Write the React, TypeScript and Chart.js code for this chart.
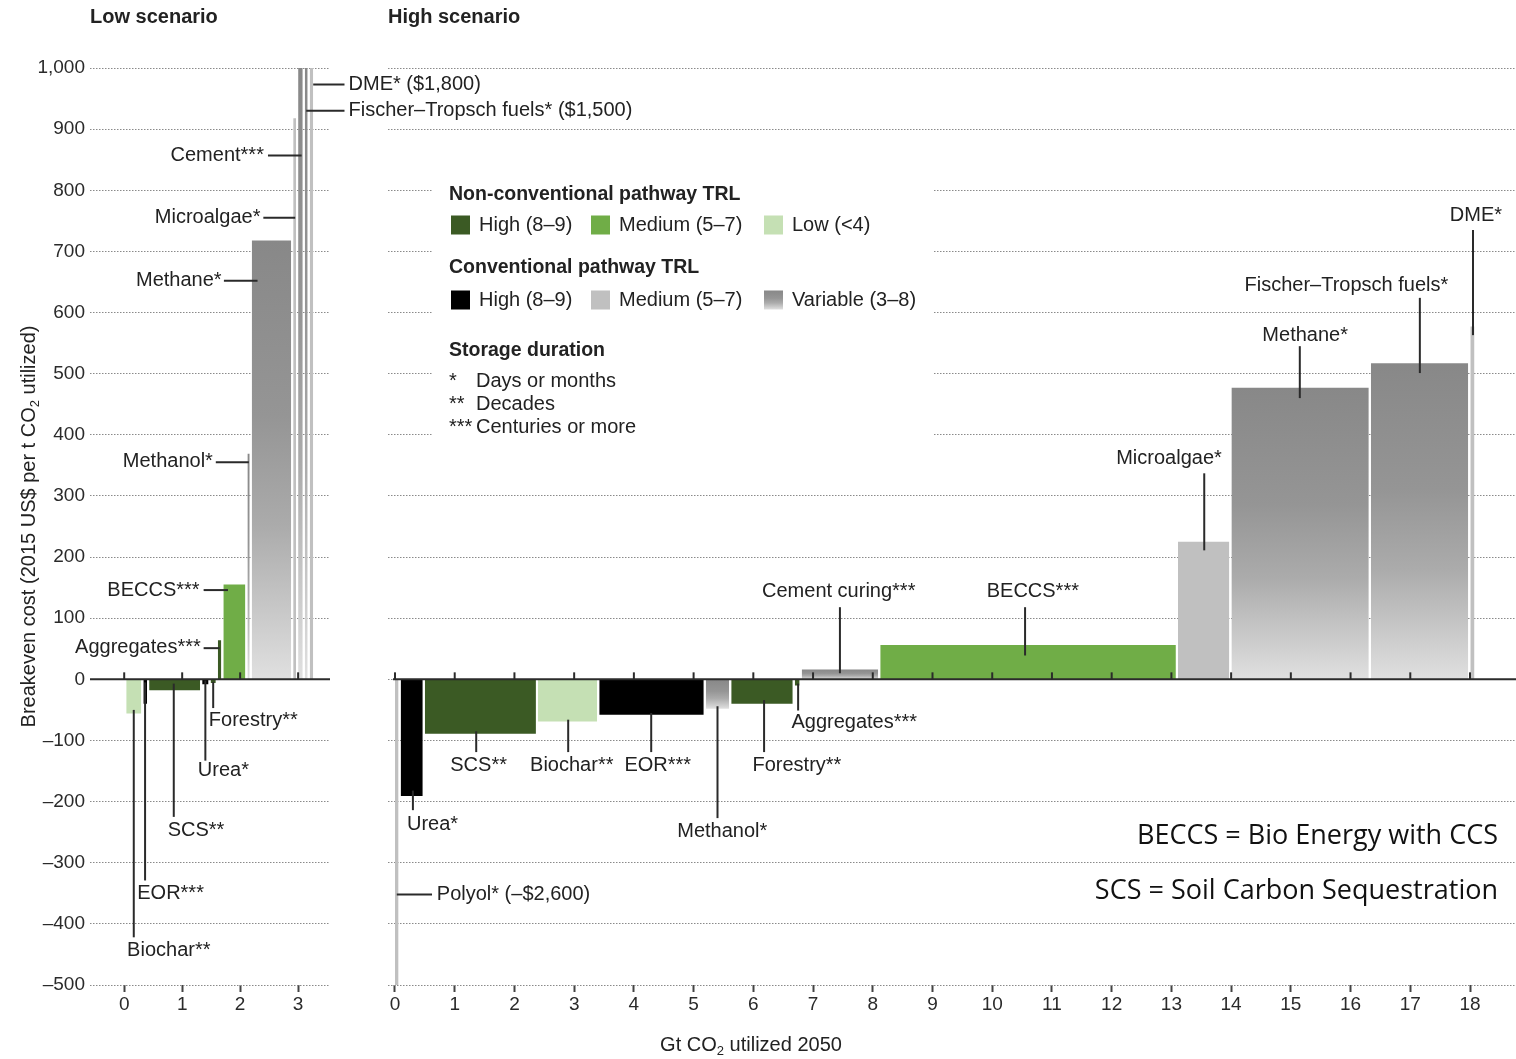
import React, { useEffect, useRef } from "react";
import { Chart, registerables } from "chart.js";

Chart.register(...registerables);

const FONT = '"Liberation Sans", Arial, Helvetica, sans-serif';
const NOTE_FONT = '"Open Sans", "Noto Sans", sans-serif';
const TEXT = "#222222";

// ---------- shared y axis ----------
const yTickValues = [-500, -400, -300, -200, -100, 0, 100, 200, 300, 400, 500, 600, 700, 800, 900, 1000];
const yTickLabels = ["–500", "–400", "–300", "–200", "–100", "0", "100", "200", "300", "400", "500", "600", "700", "800", "900", "1,000"];

// ---------- Low scenario ----------
const lowXTicks = [0, 1, 2, 3];
const lowPathways = ["Biochar", "EOR", "SCS", "Urea", "Forestry", "Aggregates", "BECCS", "Methanol", "Methane", "Microalgae", "Cement", "Fischer–Tropsch fuels", "DME"];
const lowUtilization = [0.26, 0.065, 0.88, 0.11, 0.09, 0.06, 0.38, 0.04, 0.68, 0.05, 0.08, 0.05, 0.06];
const lowCost = [-56, -40, -18, -8, -6, 64, 155, 369, 718, 918, 1000, 1500, 1800];
const lowTrl = ["ncLow", "cHigh", "ncHigh", "cHigh", "ncHigh", "ncHigh", "ncMed", "cVar", "cVar", "cMed", "cVar", "cVar", "cMed"];

// ---------- High scenario ----------
const highXTicks = [0, 1, 2, 3, 4, 5, 6, 7, 8, 9, 10, 11, 12, 13, 14, 15, 16, 17, 18];
const highPathways = ["Polyol", "Urea", "SCS", "Biochar", "EOR", "Methanol", "Forestry", "Aggregates", "Cement curing", "BECCS", "Microalgae", "Methane", "Fischer–Tropsch fuels", "DME"];
const highUtilization = [0.06, 0.37, 1.86, 0.99, 1.75, 0.39, 1.03, 0.08, 1.28, 4.95, 0.86, 2.3, 1.63, 0.07];
const highCost = [-2600, -191, -89, -69, -58, -48, -40, -10, 16, 56, 225, 477, 517, 577];
const highTrl = ["cMed", "cHigh", "ncHigh", "ncLow", "cHigh", "cVar", "ncHigh", "ncHigh", "cVar", "ncMed", "cMed", "cVar", "cVar", "cMed"];

// ---------- callouts (data coordinates) ----------
type Callout = { text: string; lx1: number; ly1: number; lx2: number; ly2: number; tx: number; ty: number; align: CanvasTextAlign };
const lowCallouts: Callout[] = [
  { text: "DME* ($1,800)", lx1: 3.26, ly1: 973, lx2: 3.8, ly2: 973, tx: 3.87, ty: 973, align: "left" },
  { text: "Fischer–Tropsch fuels* ($1,500)", lx1: 3.14, ly1: 930, lx2: 3.8, ly2: 930, tx: 3.87, ty: 930, align: "left" },
  { text: "Cement***", lx1: 2.48, ly1: 857, lx2: 3.06, ly2: 857, tx: 2.41, ty: 857, align: "right" },
  { text: "Microalgae*", lx1: 2.4, ly1: 755, lx2: 2.95, ly2: 755, tx: 2.35, ty: 756, align: "right" },
  { text: "Methane*", lx1: 1.72, ly1: 652, lx2: 2.3, ly2: 652, tx: 1.68, ty: 653, align: "right" },
  { text: "Methanol*", lx1: 1.58, ly1: 355, lx2: 2.15, ly2: 355, tx: 1.53, ty: 356, align: "right" },
  { text: "BECCS***", lx1: 1.37, ly1: 146, lx2: 1.79, ly2: 146, tx: 1.3, ty: 146, align: "right" },
  { text: "Aggregates***", lx1: 1.37, ly1: 51, lx2: 1.645, ly2: 51, tx: 1.32, ty: 52, align: "right" },
  { text: "Forestry**", lx1: 1.535, ly1: -4, lx2: 1.535, ly2: -47, tx: 1.46, ty: -68, align: "left" },
  { text: "Urea*", lx1: 1.4, ly1: -2, lx2: 1.4, ly2: -133, tx: 1.27, ty: -149, align: "left" },
  { text: "SCS**", lx1: 0.855, ly1: -7, lx2: 0.855, ly2: -225, tx: 0.75, ty: -247, align: "left" },
  { text: "EOR***", lx1: 0.36, ly1: -5, lx2: 0.36, ly2: -329, tx: 0.225, ty: -350, align: "left" },
  { text: "Biochar**", lx1: 0.165, ly1: -50, lx2: 0.165, ly2: -422, tx: 0.05, ty: -444, align: "left" },
];
const highCallouts: Callout[] = [
  { text: "Urea*", lx1: 0.3, ly1: -182, lx2: 0.3, ly2: -214, tx: 0.2, ty: -237, align: "left" },
  { text: "Polyol* (–$2,600)", lx1: 0.03, ly1: -352, lx2: 0.62, ly2: -352, tx: 0.7, ty: -352, align: "left" },
  { text: "SCS**", lx1: 1.36, ly1: -85, lx2: 1.36, ly2: -119, tx: 1.4, ty: -141, align: "center" },
  { text: "Biochar**", lx1: 2.9, ly1: -66, lx2: 2.9, ly2: -119, tx: 2.96, ty: -141, align: "center" },
  { text: "EOR***", lx1: 4.29, ly1: -55, lx2: 4.29, ly2: -119, tx: 4.4, ty: -141, align: "center" },
  { text: "Methanol*", lx1: 5.4, ly1: -44, lx2: 5.4, ly2: -227, tx: 5.48, ty: -249, align: "center" },
  { text: "Forestry**", lx1: 6.18, ly1: -34, lx2: 6.18, ly2: -119, tx: 6.73, ty: -141, align: "center" },
  { text: "Aggregates***", lx1: 6.75, ly1: -7, lx2: 6.75, ly2: -51, tx: 7.69, ty: -70, align: "center" },
  { text: "Cement curing***", lx1: 7.45, ly1: 10, lx2: 7.45, ly2: 118, tx: 7.43, ty: 143, align: "center" },
  { text: "BECCS***", lx1: 10.55, ly1: 39, lx2: 10.55, ly2: 118, tx: 10.68, ty: 143, align: "center" },
  { text: "Microalgae*", lx1: 13.55, ly1: 211, lx2: 13.55, ly2: 337, tx: 12.96, ty: 362, align: "center" },
  { text: "Methane*", lx1: 15.15, ly1: 460, lx2: 15.15, ly2: 545, tx: 15.24, ty: 563, align: "center" },
  { text: "Fischer–Tropsch fuels*", lx1: 17.16, ly1: 501, lx2: 17.16, ly2: 624, tx: 15.93, ty: 645, align: "center" },
  { text: "DME*", lx1: 18.05, ly1: 563, lx2: 18.05, ly2: 735, tx: 18.1, ty: 758, align: "center" },
];

// ---------- legend ----------
const legendTitles = ["Non-conventional pathway TRL", "Conventional pathway TRL"];
const legendKeys = [["ncHigh", "ncMed", "ncLow"], ["cHigh", "cMed", "cVar"]];
const legendLabels = [["High (8–9)", "Medium (5–7)", "Low (<4)"], ["High (8–9)", "Medium (5–7)", "Variable (3–8)"]];
const storageTitle = "Storage duration";
const storageSymbols = ["*", "**", "***"];
const storageLabels = ["Days or months", "Decades", "Centuries or more"];
const noteLines = ["BECCS = Bio Energy with CCS", "SCS = Soil Carbon Sequestration"];

// ---------- styles ----------
const TRL_COLORS: Record<string, string> = {
  ncHigh: "#3b5a24",
  ncMed: "#70ad47",
  ncLow: "#c5e0b4",
  cHigh: "#000000",
  cMed: "#c0c0c0",
};
const VAR_STOPS: [number, string][] = [
  [0, "#888888"],
  [0.4, "#959595"],
  [0.65, "#ababab"],
  [0.85, "#c9c9c9"],
  [1, "#e0e0e0"],
];
const BAR_GAP = 0.035;
const RIGHT_CANVAS_LEFT = 340;
const CANVAS_H = 1059;
const X_AXIS_H = 40;

function varGradient(ctx: CanvasRenderingContext2D, top: number, bottom: number) {
  const g = ctx.createLinearGradient(0, top, 0, bottom);
  VAR_STOPS.forEach(([o, c]) => g.addColorStop(o, c));
  return g;
}

function fillFor(trl: string, value: number) {
  if (trl !== "cVar") return TRL_COLORS[trl];
  return (c: any) => {
    const chart = c.chart;
    const area = chart.chartArea;
    const ys = chart.scales && chart.scales.y;
    if (!area || !ys) return "#aaaaaa";
    const y0 = ys.getPixelForValue(0);
    const y1 = ys.getPixelForValue(value);
    const top = Math.max(Math.min(y0, y1), area.top);
    let bot = Math.min(Math.max(y0, y1), area.bottom);
    if (bot - top < 1) bot = top + 1;
    return varGradient(chart.ctx, top, bot);
  };
}

function buildDatasets(names: string[], widths: number[], costs: number[], trls: string[], start: number) {
  let x = start;
  return widths.map((w, i) => {
    const x0 = x;
    const x1 = x + w;
    x = x1 + BAR_GAP;
    return {
      type: "line" as const,
      label: names[i],
      data: [
        { x: x0, y: 0 },
        { x: x0, y: costs[i] },
        { x: x1, y: costs[i] },
        { x: x1, y: 0 },
      ],
      fill: "origin",
      backgroundColor: fillFor(trls[i], costs[i]),
      borderColor: "rgba(0,0,0,0)",
      borderWidth: 0,
      pointRadius: 0,
      pointHoverRadius: 0,
      tension: 0,
    };
  });
}

function drawParts(ctx: CanvasRenderingContext2D, parts: { t: string; sub?: boolean }[], x: number, y: number, size: number, align: "left" | "center") {
  const main = `${size}px ${FONT}`;
  const sub = `${Math.round(size * 0.65)}px ${FONT}`;
  ctx.textAlign = "left";
  ctx.textBaseline = "middle";
  const widths = parts.map((p) => {
    ctx.font = p.sub ? sub : main;
    return ctx.measureText(p.t).width;
  });
  const total = widths.reduce((a, b) => a + b, 0);
  let cx = align === "center" ? x - total / 2 : x;
  parts.forEach((p, i) => {
    ctx.font = p.sub ? sub : main;
    ctx.fillText(p.t, cx, y + (p.sub ? size * 0.32 : 0));
    cx += widths[i];
  });
}

function drawZeroAxis(chart: any, ticks: number[], fromX: number) {
  const { ctx, chartArea } = chart;
  const xs = chart.scales.x;
  const ys = chart.scales.y;
  const y0 = ys.getPixelForValue(0);
  ctx.save();
  ctx.strokeStyle = "#2b2b2b";
  ctx.lineWidth = 2;
  ctx.beginPath();
  ctx.moveTo(fromX, y0);
  ctx.lineTo(chartArea.right, y0);
  ctx.stroke();
  ticks.forEach((t) => {
    const px = xs.getPixelForValue(t);
    ctx.beginPath();
    ctx.moveTo(px, y0);
    ctx.lineTo(px, y0 - 7);
    ctx.stroke();
  });
  ctx.restore();
}

function drawCallouts(chart: any, callouts: Callout[]) {
  const { ctx } = chart;
  const xs = chart.scales.x;
  const ys = chart.scales.y;
  ctx.save();
  ctx.strokeStyle = "#2a2a2a";
  ctx.lineWidth = 2;
  ctx.fillStyle = TEXT;
  ctx.font = `20px ${FONT}`;
  ctx.textBaseline = "middle";
  callouts.forEach((c) => {
    ctx.beginPath();
    ctx.moveTo(xs.getPixelForValue(c.lx1), ys.getPixelForValue(c.ly1));
    ctx.lineTo(xs.getPixelForValue(c.lx2), ys.getPixelForValue(c.ly2));
    ctx.stroke();
    ctx.textAlign = c.align;
    ctx.fillText(c.text, xs.getPixelForValue(c.tx), ys.getPixelForValue(c.ty));
  });
  ctx.restore();
}

function drawTitle(ctx: CanvasRenderingContext2D, text: string, x: number) {
  ctx.save();
  ctx.fillStyle = TEXT;
  ctx.font = `bold 20px ${FONT}`;
  ctx.textAlign = "left";
  ctx.textBaseline = "middle";
  ctx.fillText(text, x, 17);
  ctx.restore();
}

const yScale = (showLabels: boolean, width: number) => ({
  type: "linear" as const,
  min: -500,
  max: 1000,
  afterBuildTicks: (axis: any) => {
    axis.ticks = yTickValues.map((v) => ({ value: v }));
  },
  ticks: {
    display: showLabels,
    callback: (_v: any, i: number) => yTickLabels[i],
    font: { family: FONT, size: 19 },
    color: "#2a2a2a",
    padding: 5,
  },
  grid: { color: "#8a8a8a", lineWidth: 1, drawTicks: false },
  border: { display: false, dash: [1.5, 1.5] },
  afterFit: (axis: any) => {
    axis.width = width;
    axis.paddingTop = 0;
    axis.paddingBottom = 0;
  },
});

const xScale = (min: number, max: number, ticks: number[]) => ({
  type: "linear" as const,
  min,
  max,
  afterBuildTicks: (axis: any) => {
    axis.ticks = ticks.map((v) => ({ value: v }));
  },
  ticks: {
    callback: (_v: any, i: number) => String(ticks[i]),
    font: { family: FONT, size: 19 },
    color: "#2a2a2a",
    padding: 1,
    maxRotation: 0,
    autoSkip: false,
  },
  grid: { drawOnChartArea: false, drawTicks: true, tickLength: 7, tickWidth: 2, tickColor: "#444444" },
  border: { display: false },
  afterFit: (axis: any) => {
    axis.height = X_AXIS_H;
    axis.paddingLeft = 0;
    axis.paddingRight = 0;
  },
});

export default function App() {
  const lowRef = useRef<HTMLCanvasElement>(null);
  const highRef = useRef<HTMLCanvasElement>(null);

  useEffect(() => {
    document.body.style.margin = "0";
    Chart.defaults.font.family = FONT;

    const lowDecor = {
      id: "lowDecor",
      afterDatasetsDraw(chart: any) {
        const { ctx, chartArea } = chart;
        drawZeroAxis(chart, lowXTicks, chartArea.left);
        drawCallouts(chart, lowCallouts);
        drawTitle(ctx, "Low scenario", chartArea.left);
        ctx.save();
        ctx.fillStyle = TEXT;
        ctx.translate(29, (chartArea.top + chartArea.bottom) / 2);
        ctx.rotate(-Math.PI / 2);
        drawParts(ctx, [{ t: "Breakeven cost (2015 US$ per t CO" }, { t: "2", sub: true }, { t: " utilized)" }], 0, 0, 20, "center");
        ctx.restore();
      },
    };

    const highDecor = {
      id: "highDecor",
      beforeDatasetsDraw(chart: any) {
        const { ctx } = chart;
        ctx.save();
        ctx.fillStyle = "#ffffff";
        ctx.fillRect(433 - RIGHT_CANVAS_LEFT, 170, 500, 290);
        ctx.restore();
      },
      afterDatasetsDraw(chart: any) {
        const { ctx, chartArea } = chart;
        const xs = chart.scales.x;
        drawZeroAxis(chart, highXTicks, xs.getPixelForValue(0) - 2);
        drawCallouts(chart, highCallouts);
        drawTitle(ctx, "High scenario", chartArea.left);

        // legend
        const L = (px: number) => px - RIGHT_CANVAS_LEFT;
        const titleY = [195, 268];
        const rowY = [225, 300];
        const swX = [451, 591, 764];
        const txX = [479, 619, 792];
        ctx.save();
        ctx.textBaseline = "middle";
        ctx.textAlign = "left";
        legendTitles.forEach((t, g) => {
          ctx.fillStyle = TEXT;
          ctx.font = `bold 19.5px ${FONT}`;
          ctx.fillText(t, L(449), titleY[g]);
          legendKeys[g].forEach((k, i) => {
            const sx = L(swX[i]);
            const sy = rowY[g] - 9.5;
            ctx.fillStyle = k === "cVar" ? varGradient(ctx, sy, sy + 19) : TRL_COLORS[k];
            ctx.fillRect(sx, sy, 19, 19);
            ctx.fillStyle = TEXT;
            ctx.font = `20px ${FONT}`;
            ctx.fillText(legendLabels[g][i], L(txX[i]), rowY[g]);
          });
        });
        ctx.font = `bold 19.5px ${FONT}`;
        ctx.fillText(storageTitle, L(449), 351);
        const sY = [381, 404, 427];
        storageSymbols.forEach((s, i) => {
          ctx.font = `20px ${FONT}`;
          ctx.fillText(s, L(449), sY[i]);
          ctx.fillText(storageLabels[i], L(476), sY[i]);
        });

        // notes
        ctx.textAlign = "right";
        ctx.font = `27px ${NOTE_FONT}`;
        ctx.fillStyle = "#111111";
        ctx.fillText(noteLines[0], chartArea.right - 18, 836);
        ctx.fillText(noteLines[1], chartArea.right - 18, 891);
        ctx.restore();

        // x-axis title
        ctx.save();
        ctx.fillStyle = TEXT;
        drawParts(ctx, [{ t: "Gt CO" }, { t: "2", sub: true }, { t: " utilized 2050" }], L(751), 1045, 20, "center");
        ctx.restore();
      },
    };

    const common = {
      responsive: false,
      animation: false as const,
      events: [] as any[],
      plugins: { legend: { display: false }, tooltip: { enabled: false } },
    };

    const padBottom = CANVAS_H - 985 - X_AXIS_H;

    const lowChart = new Chart(lowRef.current as HTMLCanvasElement, {
      type: "line",
      data: { datasets: buildDatasets(lowPathways, lowUtilization, lowCost, lowTrl, BAR_GAP) as any },
      options: {
        ...common,
        layout: { padding: { left: 0, top: 68, right: 700 - 330, bottom: padBottom }, autoPadding: false },
        scales: { x: xScale(-0.59, 3.55, lowXTicks) as any, y: yScale(true, 90) as any },
      } as any,
      plugins: [lowDecor],
    });

    const highChart = new Chart(highRef.current as HTMLCanvasElement, {
      type: "line",
      data: { datasets: buildDatasets(highPathways, highUtilization, highCost, highTrl, 0) as any },
      options: {
        ...common,
        layout: { padding: { left: 388 - RIGHT_CANVAS_LEFT, top: 68, right: 0, bottom: padBottom }, autoPadding: false },
        scales: { x: xScale(-0.117, 18.77, highXTicks) as any, y: yScale(false, 0) as any },
      } as any,
      plugins: [highDecor],
    });

    return () => {
      lowChart.destroy();
      highChart.destroy();
    };
  }, []);

  return (
    <div style={{ position: "absolute", left: 0, top: 0, width: 1516, height: CANVAS_H, background: "#ffffff" }}>
      <canvas ref={lowRef} width={700} height={CANVAS_H} style={{ position: "absolute", left: 0, top: 0, width: 700, height: CANVAS_H }} />
      <canvas
        ref={highRef}
        width={1516 - RIGHT_CANVAS_LEFT}
        height={CANVAS_H}
        style={{ position: "absolute", left: RIGHT_CANVAS_LEFT, top: 0, width: 1516 - RIGHT_CANVAS_LEFT, height: CANVAS_H }}
      />
    </div>
  );
}
